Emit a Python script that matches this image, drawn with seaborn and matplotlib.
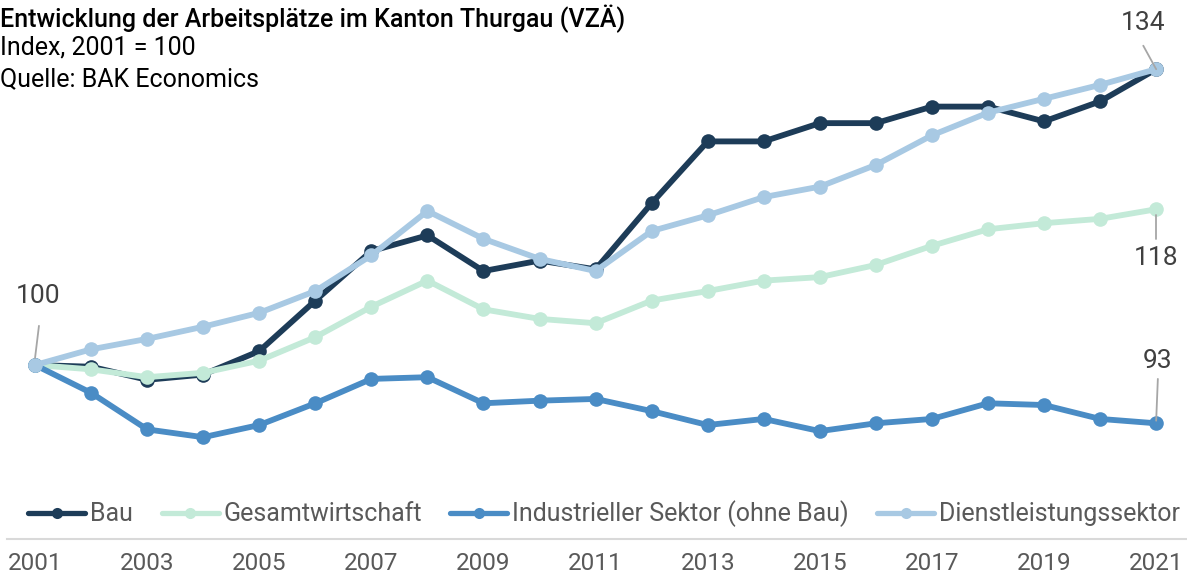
import matplotlib
matplotlib.use("Agg")
import matplotlib.pyplot as plt
import seaborn as sns
import pandas as pd
from matplotlib.lines import Line2D

years = list(range(2001, 2022))
bau = [100, 99.8, 98.3, 98.9, 101.6, 107.4, 113.1, 114.9, 110.8, 112.0, 111.0,
       118.6, 125.7, 125.7, 127.8, 127.8, 129.7, 129.7, 128.0, 130.3, 134.0]
gesamt = [100, 99.5, 98.6, 99.1, 100.5, 103.2, 106.7, 109.7, 106.4, 105.3, 104.8,
          107.4, 108.5, 109.7, 110.1, 111.5, 113.7, 115.6, 116.3, 116.8, 117.9]
industrie = [100, 96.8, 92.6, 91.7, 93.1, 95.6, 98.4, 98.6, 95.6, 95.9, 96.1,
             94.7, 93.1, 93.8, 92.4, 93.3, 93.8, 95.6, 95.4, 93.8, 93.3]
dienst = [100, 101.8, 103.0, 104.4, 106.0, 108.5, 112.6, 117.7, 114.5, 112.2, 110.8,
          115.4, 117.2, 119.3, 120.5, 123.0, 126.4, 129.0, 130.6, 132.2, 134.0]

series_names = ["Bau", "Gesamtwirtschaft", "Industrieller Sektor (ohne Bau)", "Dienstleistungssektor"]
colors = ["#1d3c58", "#c3ead8", "#4a8cc5", "#a8c9e3"]
tick_years = list(range(2001, 2022, 2))

title = "Entwicklung der Arbeitsplätze im Kanton Thurgau (VZÄ)"
subtitle1 = "Index, 2001 = 100"
subtitle2 = "Quelle: BAK Economics"

# end/start value labels: (text, label position, leader line start, leader line end)
labels = [
    ("100", (2001.05, 107.9), (2001.0, 100.8), (2001.07, 104.5)),
    ("134", (2020.77, 139.3), (2021.0, 134.0), (2020.77, 136.7)),
    ("118", (2021.0, 112.3), (2021.0, 117.2), (2021.0, 114.5)),
    ("93", (2021.03, 100.5), (2021.0, 93.6), (2021.03, 98.4)),
]

df = pd.DataFrame({
    "Jahr": years * 4,
    "Index": bau + gesamt + industrie + dienst,
    "Serie": sum([[n] * len(years) for n in series_names], []),
})

sns.set_theme(style="white")
plt.rcParams["font.family"] = ["Roboto", "DejaVu Sans"]

fig = plt.figure(figsize=(11.87, 5.77), dpi=100)
ax = fig.add_axes([7 / 1187, 1 - 539 / 577, 1180 / 1187, 522 / 577])

sns.lineplot(data=df, x="Jahr", y="Index", hue="Serie", hue_order=series_names,
             palette=colors, marker="o", markersize=10.5, markeredgewidth=0,
             linewidth=4.2, ax=ax, legend=False)

ax.set_xlim(2000.5, 2021.55)
ax.set_ylim(80, 140)
ax.set_xlabel("")
ax.set_ylabel("")
ax.set_yticks([])
ax.set_xticks(tick_years)
ax.set_xticklabels([str(y) for y in tick_years], fontsize=17.5, color="#595959")
ax.tick_params(axis="x", length=0, pad=9)
for s in ["top", "left", "right"]:
    ax.spines[s].set_visible(False)
ax.spines["bottom"].set_color("#d9d9d9")
ax.spines["bottom"].set_linewidth(1.5)

# annotations with leader lines
for txt, pos, p0, p1 in labels:
    ax.plot([p0[0], p1[0]], [p0[1], p1[1]], color="#a6a6a6", lw=1.3, zorder=5)
    ax.text(pos[0], pos[1], txt, ha="center", va="center", fontsize=19, color="#404040")

handles = [Line2D([0], [0], color=c, lw=3.8, marker="o", markersize=8, markeredgewidth=0)
           for c in colors]
leg = ax.legend(handles, series_names, loc="center", bbox_to_anchor=(0.506, 0.048),
                ncol=4, frameon=False, fontsize=18, handlelength=2.28,
                handletextpad=0.18, columnspacing=1.15, borderaxespad=0)
for t in leg.get_texts():
    t.set_color("#595959")

fig.text(0, 1 - 19 / 577, title, ha="left", va="center", fontsize=18, color="black",
         fontweight="medium")
fig.text(0, 1 - 48 / 577, subtitle1, ha="left", va="center", fontsize=18, color="black")
fig.text(0, 1 - 79 / 577, subtitle2, ha="left", va="center", fontsize=18, color="black")

fig.savefig("out.png", dpi=100)
